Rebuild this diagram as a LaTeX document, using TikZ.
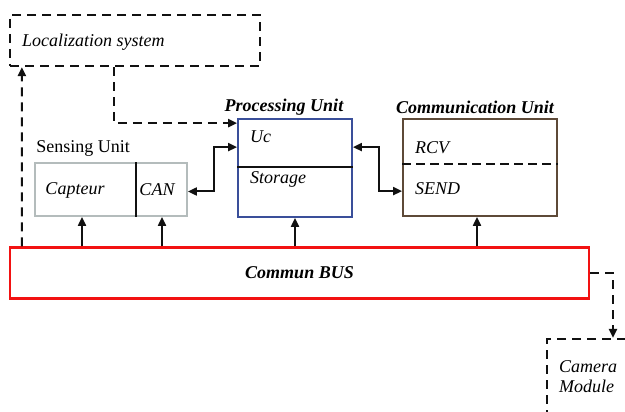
\documentclass[tikz,border=0pt]{standalone}
\usepackage{fontspec}
\setmainfont{Liberation Serif}
\usetikzlibrary{arrows.meta,positioning,calc}
\definecolor{publue}{HTML}{3A4F9A}
\definecolor{sugray}{HTML}{B4BCBC}
\definecolor{cubrown}{HTML}{5E4A38}
\definecolor{busred}{HTML}{F21212}
\definecolor{dgink}{HTML}{111111}

\begin{document}
\begin{tikzpicture}[x=1pt,y=-1pt,
    unitbox/.style={draw,line width=1.8pt,fill=white,inner sep=0pt},
    dashbox/.style={draw=dgink,line width=2.2pt,dash pattern=on 9pt off 6pt,inner sep=0pt},
    txt/.style={font=\fontsize{18}{20}\selectfont\itshape,inner sep=0pt},
    ttl/.style={font=\fontsize{18}{21}\selectfont\bfseries\itshape,inner sep=0pt},
    arr/.style={-{Triangle[length=9pt,width=8pt]},line width=2pt,dgink},
    dbl/.style={{Triangle[length=9pt,width=8pt]}-{Triangle[length=9pt,width=8pt]},line width=2pt,dgink},
    dasharr/.style={-{Triangle[length=9pt,width=8pt]},line width=2.2pt,dgink,dash pattern=on 9pt off 6pt}]
  \useasboundingbox (0,0) rectangle (625,412);
  % boxes
  \node[dashbox,minimum width=250,minimum height=51] (loc) at (135,40.5) {};
  \node[txt,anchor=west] (loctxt) at (22,42) {Localization system};
  \node[unitbox,draw=sugray,minimum width=152,minimum height=53] (sens) at (111,189.5) {};
  \node[unitbox,draw=publue,minimum width=114,minimum height=98] (proc) at (295,168) {};
  \node[unitbox,draw=cubrown,minimum width=154,minimum height=97] (comm) at (480,167.5) {};
  \node[unitbox,draw=busred,line width=2.3pt,minimum width=579,minimum height=51,ttl] (bus) at (299.5,273) {Commun BUS};
  \node[dashbox,minimum width=132,minimum height=100] (cam) at (613,389) {};
  % inner lines
  \draw[line width=1.8pt,dgink] (136,0 |- sens.north) -- (136,0 |- sens.south);
  \draw[line width=1.8pt,dgink] (proc.west |- 0,167) -- (proc.east |- 0,167);
  \draw[line width=2pt,dgink,dash pattern=on 9pt off 5pt] (comm.west |- 0,164) -- (comm.east |- 0,164);
  % labels
  \node[font=\fontsize{18}{20}\selectfont,anchor=south west,inner sep=0pt] (senslbl) at ($(sens.north west)+(2,-6)$) {Sensing Unit};
  \node[ttl] (proclbl) at (284,107) {Processing Unit};
  \node[ttl] (commlbl) at (475,107) {Communication Unit};
  \node[txt] (capt) at (75,190) {Capteur};
  \node[txt] (can) at (157,190) {CAN};
  \node[txt,anchor=west] (uc) at (250,137) {Uc};
  \node[txt,anchor=west] (stor) at (250,179) {Storage};
  \node[txt,anchor=west] (rcv) at (415,148) {RCV};
  \node[txt,anchor=west] (send) at (415,189) {SEND};
  \node[txt,anchor=west,align=left] (camtxt) at (559,377) {Camera\\Module};
  % connectors
  \draw[arr] (bus.north -| 82,0) -- (82,0 |- sens.south);
  \draw[arr] (bus.north -| 162,0) -- (162,0 |- sens.south);
  \draw[arr] (bus.north -| proc) -- (proc.south);
  \draw[arr] (bus.north -| 477,0) -- (477,0 |- comm.south);
  \draw[dbl] ($(sens.east)+(0,2)$) -- ++(26,0) |- ($(proc.north west)+(0,29)$);
  \draw[dbl] ($(proc.north east)+(0,29)$) -- ++(26,0) |- ($(comm.north west)+(0,73)$);
  \draw[dasharr] ($(loc.south west)+(105,0)$) |- ($(proc.north west)+(0,5)$);
  \draw[dasharr] ($(bus.north west)+(13,0)$) -- ($(loc.south west)+(13,0)$);
  \draw[dasharr] (bus.east) -| (cam.north);
\end{tikzpicture}
\end{document}
